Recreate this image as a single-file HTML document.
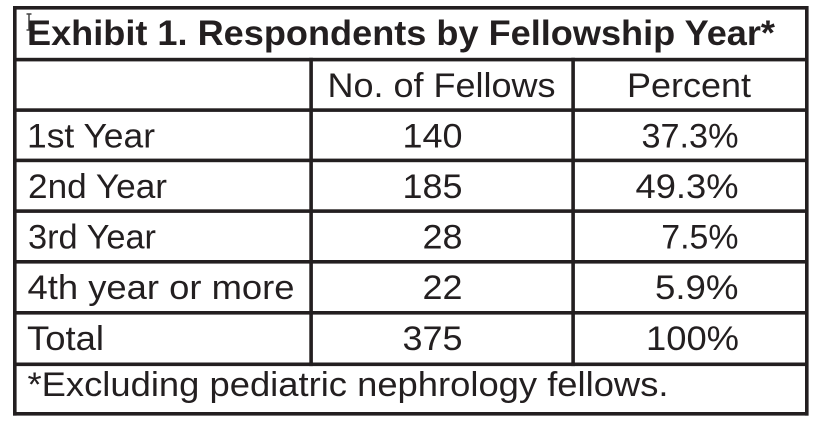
<!DOCTYPE html>
<html>
<head>
<meta charset="utf-8">
<style>
  html, body { margin: 0; padding: 0; background: #ffffff; }
  body { width: 827px; height: 427px; overflow: hidden; }
  svg { display: block; }
  text { font-family: "Liberation Sans", Arial, Helvetica, sans-serif; fill: #231f20; }
  .b { font-weight: bold; font-size: 35px; }
  .r { font-size: 34px; }
</style>
</head>
<body>
<svg width="827" height="427" viewBox="0 0 827 427" xmlns="http://www.w3.org/2000/svg">
  <rect x="0" y="0" width="827" height="427" fill="#ffffff"/>
  <g fill="#231f20">
    <!-- horizontal lines -->
    <rect x="13" y="6" width="795.5" height="3.6"/>
    <rect x="13" y="57.8" width="795.5" height="3.6"/>
    <rect x="13" y="108.3" width="795.5" height="3.6"/>
    <rect x="13" y="158.6" width="795.5" height="3.6"/>
    <rect x="13" y="209.3" width="795.5" height="3.6"/>
    <rect x="13" y="260" width="795.5" height="3.6"/>
    <rect x="13" y="311" width="795.5" height="3.6"/>
    <rect x="13" y="362.5" width="795.5" height="3.6"/>
    <rect x="13" y="412" width="795.5" height="3.6"/>
    <!-- vertical lines -->
    <rect x="13" y="6" width="3.6" height="409.6"/>
    <rect x="805" y="6" width="3.6" height="409.6"/>
    <rect x="309.3" y="57.8" width="3.6" height="308.3"/>
    <rect x="571.3" y="57.8" width="3.6" height="308.3"/>
  </g>

  <!-- I-beam cursor -->
  <g stroke="#444" stroke-width="1.5" fill="none">
    <line x1="29" y1="14.5" x2="29" y2="29.5"/>
    <line x1="26.5" y1="14" x2="31.5" y2="14"/>
    <line x1="26.5" y1="30" x2="31.5" y2="30"/>
  </g>

  <!-- title -->
  <text class="b" x="27" y="45" textLength="748" lengthAdjust="spacingAndGlyphs">Exhibit 1. Respondents by Fellowship Year*</text>

  <!-- header -->
  <text class="r" x="327.5" y="97" textLength="228" lengthAdjust="spacingAndGlyphs">No. of Fellows</text>
  <text class="r" x="627" y="97" textLength="124" lengthAdjust="spacingAndGlyphs">Percent</text>

  <!-- row labels -->
  <text class="r" x="27" y="147.5" textLength="128" lengthAdjust="spacingAndGlyphs">1st Year</text>
  <text class="r" x="28" y="198" textLength="139" lengthAdjust="spacingAndGlyphs">2nd Year</text>
  <text class="r" x="28" y="248.5" textLength="128" lengthAdjust="spacingAndGlyphs">3rd Year</text>
  <text class="r" x="27.5" y="299" textLength="267" lengthAdjust="spacingAndGlyphs">4th year or more</text>
  <text class="r" x="27" y="350" textLength="77" lengthAdjust="spacingAndGlyphs">Total</text>

  <!-- counts -->
  <text class="r" x="402.5" y="147.5" textLength="60" lengthAdjust="spacingAndGlyphs">140</text>
  <text class="r" x="402.5" y="198" textLength="60" lengthAdjust="spacingAndGlyphs">185</text>
  <text class="r" x="422.5" y="248.5" textLength="40" lengthAdjust="spacingAndGlyphs">28</text>
  <text class="r" x="422.5" y="299" textLength="40" lengthAdjust="spacingAndGlyphs">22</text>
  <text class="r" x="402.5" y="350" textLength="60" lengthAdjust="spacingAndGlyphs">375</text>

  <!-- percents -->
  <text class="r" x="641.5" y="147.5" textLength="97" lengthAdjust="spacingAndGlyphs">37.3%</text>
  <text class="r" x="635.5" y="198" textLength="103" lengthAdjust="spacingAndGlyphs">49.3%</text>
  <text class="r" x="661.3" y="248.5" textLength="77.2" lengthAdjust="spacingAndGlyphs">7.5%</text>
  <text class="r" x="655" y="299" textLength="83.5" lengthAdjust="spacingAndGlyphs">5.9%</text>
  <text class="r" x="646" y="350" textLength="93" lengthAdjust="spacingAndGlyphs">100%</text>

  <!-- footnote -->
  <text class="r" x="27.5" y="396" textLength="641" lengthAdjust="spacingAndGlyphs">*Excluding pediatric nephrology fellows.</text>
</svg>
</body>
</html>
